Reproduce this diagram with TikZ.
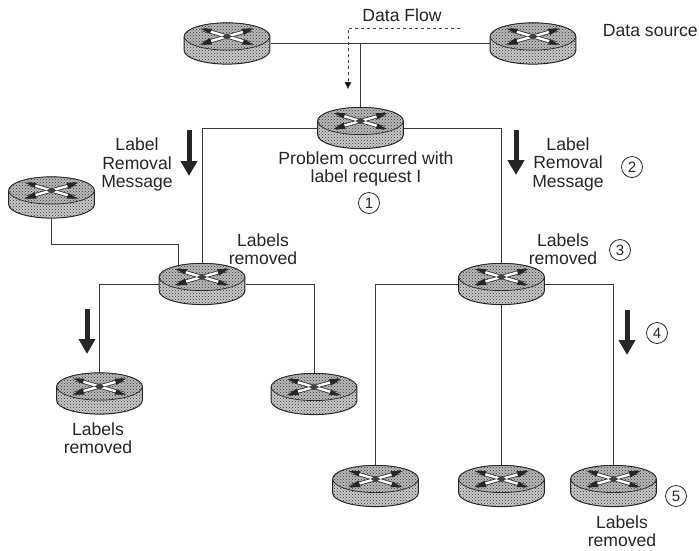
\documentclass[tikz,border=0pt]{standalone}
\usepackage{fontspec}
\setmainfont{Liberation Sans}
\usetikzlibrary{arrows.meta,backgrounds,calc,patterns}
\tikzset{
  rstripe/.pic={
    \draw[black!80,line width=4pt] (-24,-7) -- (24,7);
    \draw[black!80,line width=4pt] (-25,7) -- (25,-7);
    \draw[white,line width=2.4pt] (-24,-7) -- (24,7);
    \draw[white,line width=2.4pt] (-25,7) -- (25,-7);
    \fill[black!85] (-27,8) -- (-17,1.5) -- (-15,8) -- cycle;
    \fill[black!85] (27,-8) -- (17,-1.5) -- (15,-8) -- cycle;
    \fill[black!85] (-27,-8) -- (-15,-8) -- (-17,-3) -- cycle;
    \fill[black!85] (27,8) -- (15,8) -- (17,3) -- cycle;
    \fill[black!75] (-5,0) -- (0,-3) -- (5,0) -- (0,3) -- cycle;
  },
  router/.style={minimum width=87pt,minimum height=42pt,inner sep=0pt,outer sep=0pt,
    path picture={
      \begin{scope}[shift={(path picture bounding box.center)}]
        \path[fill=gray!42]
          (-42.8,-7) -- (-42.8,7) arc[start angle=180,end angle=360,x radius=42.8pt,y radius=13.6pt]
          -- (42.8,-7) arc[start angle=0,end angle=180,x radius=42.8pt,y radius=13.6pt] -- cycle;
        \path[pattern=crosshatch dots,pattern color=black!80]
          (-42.8,-7) -- (-42.8,7) arc[start angle=180,end angle=360,x radius=42.8pt,y radius=13.6pt]
          -- (42.8,-7) arc[start angle=0,end angle=180,x radius=42.8pt,y radius=13.6pt] -- cycle;
        \path[draw=black!85,line width=1pt]
          (-42.8,-7) -- (-42.8,7) arc[start angle=180,end angle=360,x radius=42.8pt,y radius=13.6pt]
          -- (42.8,-7) arc[start angle=0,end angle=180,x radius=42.8pt,y radius=13.6pt] -- cycle;
        \path[fill=gray!55] (0,-7) ellipse[x radius=42.8pt,y radius=13.6pt];
        \path[pattern=crosshatch dots,pattern color=black!80] (0,-7) ellipse[x radius=42.8pt,y radius=13.6pt];
        \path[draw=black!85,line width=.7pt] (0,-7) ellipse[x radius=42.8pt,y radius=13.6pt];
        \pic at (0,-7) {rstripe};
      \end{scope}}},
  wire/.style={draw=black!78,line width=1pt},
  flow/.style={draw=black!75,line width=.8pt,dash pattern=on 3pt off 3pt,
    -{Triangle[length=7pt,width=7pt,fill=black]}},
  bigdown/.style={draw=black!85,line width=5pt,-{Triangle[length=15pt,width=16pt,fill=black!85]}},
  caption/.style={align=center,font=\fontsize{17.6}{18.5}\selectfont,text=black!85,inner sep=0pt},
  stepmark/.style={circle,draw=black!85,line width=.8pt,minimum size=21pt,inner sep=0pt,
    font=\fontsize{15}{15}\selectfont,text=black!85},
}
\begin{document}
\begin{tikzpicture}[x=1pt,y=-1pt]
\useasboundingbox (0,0) rectangle (699,550);
% routers
\node[router] (rtl) at (227,43.5) {};
\node[router] (rtr) at (533,43.5) {};
\node[router] (rm)  at (360.5,128) {};
\node[router] (rx)  at (51.5,197.5) {};
\node[router] (rcl) at (202,284) {};
\node[router] (rcr) at (501.5,284) {};
\node[router] (rb1) at (99.5,393.5) {};
\node[router] (rb2) at (314,394) {};
\node[router] (rb3) at (375.5,486) {};
\node[router] (rb4) at (501.5,486) {};
\node[router] (rb5) at (613.5,486) {};
% connector ends
\coordinate (jx) at (178,270);
\coordinate (fa) at (460,28);
\coordinate (fb) at (348,89);
\coordinate (a1s) at (189,130); \coordinate (a1e) at (189,176);
\coordinate (a2s) at (516,130); \coordinate (a2e) at (516,175);
\coordinate (a3s) at (87,309);  \coordinate (a3e) at (87,354);
\coordinate (a4s) at (627,310); \coordinate (a4e) at (627,355);
\begin{scope}[on background layer]
  \draw[wire] (rtl.east) -- (rtr.west);
  \draw[wire] (rm.north) -- (rm.north |- rtl.east);
  \draw[wire] (rm.west) -| (rcl.north);
  \draw[wire] (rm.east) -| (rcr.north);
  \draw[wire] (rx.south) |- (178,244) -- (jx);
  \draw[wire] (rcl.west) -| (rb1.north);
  \draw[wire] (rcl.east) -| (rb2.north);
  \draw[wire] (rcr.west) -| (rb3.north);
  \draw[wire] (rcr.south) -- (rb4.north);
  \draw[wire] (rcr.east) -| (rb5.north);
\end{scope}
\draw[flow] (fa) -| (fb);
\draw[bigdown] (a1s) -- (a1e);
\draw[bigdown] (a2s) -- (a2e);
\draw[bigdown] (a3s) -- (a3e);
\draw[bigdown] (a4s) -- (a4e);
% labels
\node[caption] (tflow) at (402,15) {Data Flow};
\node[caption,anchor=east] (tsrc) at (698,31) {Data source};
\node[caption] (tprob) at (366,169) {Problem occurred with\\label request I};
\node[caption] (tl1) at (137,164.5) {Label\\Removal\\Message};
\node[caption] (tl2) at (568,164) {Label\\Removal\\Message};
\node[caption] (tr1) at (263,249) {Labels\\removed};
\node[caption] (tr2) at (563,249) {Labels\\removed};
\node[caption] (tr3) at (98,438) {Labels\\removed};
\node[caption] (tr4) at (622,531) {Labels\\removed};
\node[stepmark] (s1) at (369,203) {1};
\node[stepmark] (s2) at (632,167) {2};
\node[stepmark] (s3) at (620,250) {3};
\node[stepmark] (s4) at (657,333) {4};
\node[stepmark] (s5) at (676,496) {5};
\end{tikzpicture}
\end{document}
